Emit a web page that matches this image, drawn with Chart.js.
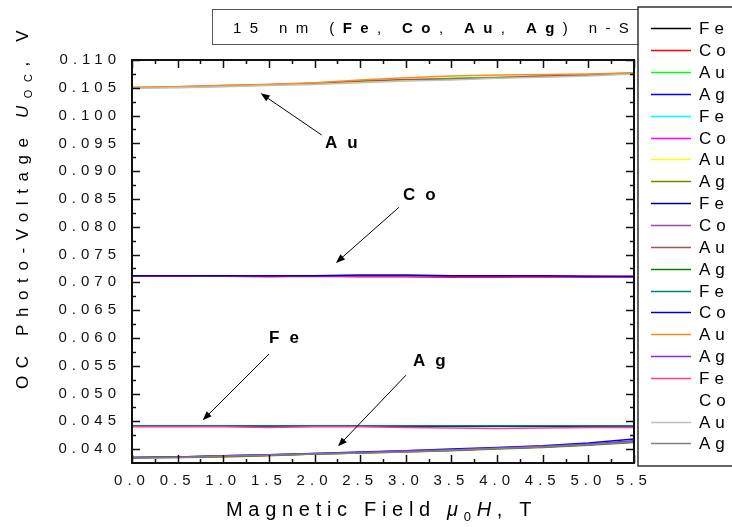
<!DOCTYPE html>
<html>
<head>
<meta charset="utf-8">
<script src="https://cdn.jsdelivr.net/npm/chart.js@4.4.1/dist/chart.umd.min.js"></script>
<style>
  html, body { margin: 0; padding: 0; background: #fff; }
  canvas { display: block; }
</style>
</head>
<body>
<canvas id="chart" width="732" height="527"></canvas>
<script>
"use strict";

const FONT = "'Liberation Sans', Arial, sans-serif";

// Magnetic field points, T
const FIELD = [0, 0.5, 1.0, 1.5, 2.0, 2.5, 3.0, 3.5, 4.0, 4.5, 5.0, 5.5];
const X_TICKS = [0, 0.5, 1.0, 1.5, 2.0, 2.5, 3.0, 3.5, 4.0, 4.5, 5.0, 5.5];
const Y_TICKS = [0.040, 0.045, 0.050, 0.055, 0.060, 0.065, 0.070, 0.075,
  0.080, 0.085, 0.090, 0.095, 0.100, 0.105, 0.110];

// Fe runs, V
const FE_1 = [0.0441, 0.0441, 0.0441, 0.0441, 0.0441, 0.0441, 0.0442, 0.0441, 0.0441, 0.0441, 0.0441, 0.0441];
const FE_2 = [0.0442, 0.0442, 0.0442, 0.0442, 0.0442, 0.0442, 0.0442, 0.0442, 0.0442, 0.0442, 0.0442, 0.0442];
const FE_3 = [0.0441, 0.0441, 0.0441, 0.0442, 0.0441, 0.0441, 0.0441, 0.0441, 0.0441, 0.0441, 0.0441, 0.0442];
const FE_4 = [0.0442, 0.0442, 0.0441, 0.0442, 0.0442, 0.0442, 0.0442, 0.0442, 0.0442, 0.0442, 0.0442, 0.0442];
const FE_5 = [0.0440, 0.0440, 0.0440, 0.0439, 0.0440, 0.0440, 0.0439, 0.0438, 0.0437, 0.0438, 0.0439, 0.0439];

// Co runs, V
const CO_1 = [0.0711, 0.0711, 0.0711, 0.0710, 0.0711, 0.0710, 0.0710, 0.0709, 0.0709, 0.0710, 0.0709, 0.0709];
const CO_2 = [0.0711, 0.0711, 0.0711, 0.0711, 0.0711, 0.0711, 0.0711, 0.0710, 0.0710, 0.0710, 0.0710, 0.0710];
const CO_3 = [0.0712, 0.0712, 0.0711, 0.0712, 0.0712, 0.0712, 0.0712, 0.0711, 0.0711, 0.0711, 0.0711, 0.0710];
const CO_4 = [0.0712, 0.0712, 0.0712, 0.0712, 0.0712, 0.0713, 0.0713, 0.0712, 0.0712, 0.0712, 0.0711, 0.0711];
const CO_5 = [0.0711, 0.0711, 0.0711, 0.0711, 0.0711, 0.0711, 0.0711, 0.0711, 0.0711, 0.0711, 0.0711, 0.0711];

// Au runs, V
const AU_1 = [0.1050, 0.1051, 0.1053, 0.1055, 0.1058, 0.1061, 0.1064, 0.1067, 0.1069, 0.1071, 0.1073, 0.1077];
const AU_2 = [0.1050, 0.1051, 0.1053, 0.1055, 0.1057, 0.1060, 0.1063, 0.1065, 0.1068, 0.1070, 0.1072, 0.1076];
const AU_3 = [0.1050, 0.1052, 0.1054, 0.1056, 0.1058, 0.1062, 0.1065, 0.1066, 0.1068, 0.1071, 0.1073, 0.1076];
const AU_4 = [0.1051, 0.1052, 0.1054, 0.1056, 0.1059, 0.1064, 0.1068, 0.1071, 0.1073, 0.1074, 0.1075, 0.1077];
const AU_5 = [0.1049, 0.1050, 0.1052, 0.1054, 0.1056, 0.1059, 0.1062, 0.1064, 0.1067, 0.1069, 0.1071, 0.1075];

// Ag runs, V
const AG_1 = [0.0385, 0.0386, 0.0388, 0.0390, 0.0392, 0.0395, 0.0397, 0.0400, 0.0403, 0.0406, 0.0411, 0.0418];
const AG_2 = [0.0384, 0.0385, 0.0386, 0.0388, 0.0391, 0.0393, 0.0395, 0.0397, 0.0400, 0.0403, 0.0407, 0.0412];
const AG_3 = [0.0385, 0.0386, 0.0387, 0.0389, 0.0391, 0.0393, 0.0396, 0.0398, 0.0401, 0.0404, 0.0408, 0.0413];
const AG_4 = [0.0385, 0.0386, 0.0388, 0.0390, 0.0392, 0.0394, 0.0397, 0.0399, 0.0402, 0.0405, 0.0409, 0.0415];
const AG_5 = [0.0384, 0.0385, 0.0387, 0.0389, 0.0391, 0.0393, 0.0395, 0.0398, 0.0401, 0.0404, 0.0408, 0.0413];

// Legend order follows the Origin colour cycle
const SERIES = [
  ["Fe", "#000000", FE_1], ["Co", "#ff0000", CO_1], ["Au", "#00ff00", AU_1], ["Ag", "#0000ff", AG_1],
  ["Fe", "#00ffff", FE_2], ["Co", "#ff00ff", CO_2], ["Au", "#ffff00", AU_2], ["Ag", "#808000", AG_2],
  ["Fe", "#000080", FE_3], ["Co", "#9a4a9a", CO_3], ["Au", "#a05555", AU_3], ["Ag", "#008000", AG_3],
  ["Fe", "#008080", FE_4], ["Co", "#0000c0", CO_4], ["Au", "#ff8c1a", AU_4], ["Ag", "#8a2be2", AG_4],
  ["Fe", "#ff3c8c", FE_5], ["Co", "#ffffff", CO_5], ["Au", "#c0c0c0", AU_5], ["Ag", "#808080", AG_5],
];

// Arrow annotations in data units: label [H, U], tail, tip
const NOTES = [
  { text: "Au", at: [2.115, 0.0941], from: [2.078, 0.0965], to: [1.41, 0.1040] },
  { text: "Co", at: [2.969, 0.0848], from: [2.925, 0.0835], to: [2.235, 0.0735] },
  { text: "Fe", at: [1.501, 0.0591], from: [1.501, 0.0571], to: [0.775, 0.0452] },
  { text: "Ag", at: [3.079, 0.0549], from: [3.002, 0.0533], to: [2.257, 0.0405] },
];

function spaced(ctx, parts, x, y, spacing) {
  ctx.letterSpacing = spacing + "px";
  let cx = x;
  parts.forEach((p) => {
    ctx.font = p.font;
    ctx.fillText(p.text, cx, y + (p.dy || 0));
    cx += ctx.measureText(p.text).width;
  });
}

function arrow(ctx, x1, y1, x2, y2) {
  const ang = Math.atan2(y2 - y1, x2 - x1);
  const len = 9, wid = 3.5;
  ctx.beginPath();
  ctx.moveTo(x1, y1);
  ctx.lineTo(x2 - Math.cos(ang) * len * 0.8, y2 - Math.sin(ang) * len * 0.8);
  ctx.stroke();
  ctx.beginPath();
  ctx.moveTo(x2, y2);
  ctx.lineTo(x2 - Math.cos(ang) * len - Math.sin(ang) * wid, y2 - Math.sin(ang) * len + Math.cos(ang) * wid);
  ctx.lineTo(x2 - Math.cos(ang) * len + Math.sin(ang) * wid, y2 - Math.sin(ang) * len - Math.cos(ang) * wid);
  ctx.closePath();
  ctx.fill();
}

// Midpoints between neighbouring major ticks
const minors = (t) => t.slice(1).map((v, i) => (v + t[i]) / 2);

const decor = {
  id: "decor",
  beforeUpdate(chart) { chart.ctx.letterSpacing = "5px"; },
  beforeDraw(chart) { chart.ctx.letterSpacing = "5px"; },
  afterDatasetsDraw(chart) {
    const ctx = chart.ctx, a = chart.chartArea;
    const xs = chart.scales.x, ys = chart.scales.y;
    ctx.save();
    ctx.strokeStyle = "#111";
    ctx.lineWidth = 1.5;
    ctx.beginPath();
    const xt = (v, len) => {
      const px = Math.round(xs.getPixelForValue(v)) + 0.5;
      ctx.moveTo(px, a.bottom); ctx.lineTo(px, a.bottom - len);
      ctx.moveTo(px, a.top); ctx.lineTo(px, a.top + len);
    };
    const yt = (v, len) => {
      const py = Math.round(ys.getPixelForValue(v)) + 0.5;
      ctx.moveTo(a.left, py); ctx.lineTo(a.left + len, py);
      ctx.moveTo(a.right, py); ctx.lineTo(a.right - len, py);
    };
    X_TICKS.forEach((v) => xt(v, 8));
    minors(X_TICKS).forEach((v) => xt(v, 4));
    Y_TICKS.forEach((v) => yt(v, 8));
    minors(Y_TICKS).forEach((v) => yt(v, 4));
    ctx.stroke();
    ctx.lineWidth = 2;
    ctx.strokeRect(a.left, a.top, a.right - a.left, a.bottom - a.top);
    ctx.restore();
  },
  afterDraw(chart) {
    const ctx = chart.ctx;
    const xs = chart.scales.x, ys = chart.scales.y;
    const px = (p) => [xs.getPixelForValue(p[0]), ys.getPixelForValue(p[1])];
    ctx.save();
    ctx.fillStyle = "#000";
    ctx.strokeStyle = "#000";
    ctx.textBaseline = "alphabetic";
    ctx.textAlign = "left";

    // arrows and material labels
    ctx.lineWidth = 1;
    NOTES.forEach((n) => {
      const [x1, y1] = px(n.from), [x2, y2] = px(n.to), [lx, ly] = px(n.at);
      arrow(ctx, x1, y1, x2, y2);
      spaced(ctx, [{ text: n.text, font: "bold 17px " + FONT }], lx, ly, 10);
    });

    // x axis title
    const reg = "20px " + FONT, ita = "italic 20px " + FONT, sub = "13px " + FONT;
    spaced(ctx, [
      { text: "Magnetic Field ", font: reg },
      { text: "μ", font: ita },
      { text: "0", font: sub, dy: 5 },
      { text: "H", font: ita },
      { text: ", T", font: reg },
    ], 226, 516, 5.7);

    // y axis title, rotated
    ctx.save();
    ctx.translate(28, 389);
    ctx.rotate(-Math.PI / 2);
    const yr = "17px " + FONT;
    spaced(ctx, [
      { text: "OC Photo-Voltage ", font: yr },
      { text: "U", font: "italic 17px " + FONT },
      { text: "OC", font: "11px " + FONT, dy: 4 },
      { text: ", V", font: yr },
    ], 0, 0, 7.6);
    ctx.restore();

    // sample caption box
    ctx.fillStyle = "#fff";
    ctx.fillRect(212.5, 9.5, 480, 35);
    ctx.strokeStyle = "#555";
    ctx.lineWidth = 1;
    ctx.strokeRect(212.5, 9.5, 480, 35);
    ctx.fillStyle = "#000";
    const tr = "15px " + FONT, tb = "bold 15px " + FONT;
    spaced(ctx, [
      { text: "15 nm (", font: tr }, { text: "Fe", font: tb }, { text: ", ", font: tr },
      { text: "Co", font: tb }, { text: ", ", font: tr }, { text: "Au", font: tb },
      { text: ", ", font: tr }, { text: "Ag", font: tb }, { text: ") n-Si", font: tr },
    ], 233, 32.5, 8.4);

    // legend
    ctx.fillStyle = "#fff";
    ctx.fillRect(638, 7, 120, 459);
    ctx.strokeStyle = "#333";
    ctx.lineWidth = 1.5;
    ctx.strokeRect(638, 7, 120, 459);
    SERIES.forEach((s, i) => {
      const y = 28.3 + i * 21.85;
      ctx.strokeStyle = s[1];
      ctx.lineWidth = 1.6;
      ctx.beginPath();
      ctx.moveTo(651, Math.round(y) + 0.5);
      ctx.lineTo(691, Math.round(y) + 0.5);
      ctx.stroke();
      ctx.fillStyle = "#000";
      spaced(ctx, [{ text: s[0], font: "17px " + FONT }], 699, y + 6, 5);
    });
    ctx.restore();
  },
};

new Chart(document.getElementById("chart"), {
  type: "line",
  data: {
    labels: FIELD,
    datasets: SERIES.map((s, i) => ({
      label: s[0],
      data: s[2].map((v, k) => ({ x: FIELD[k], y: v })),
      borderColor: s[1],
      borderWidth: 1.5,
      pointRadius: 0,
      tension: 0,
      fill: false,
      // later runs are painted over earlier ones; the white run stays underneath
      order: s[1] === "#ffffff" ? 100 : SERIES.length - i,
    })),
  },
  options: {
    responsive: false,
    animation: false,
    devicePixelRatio: 1,
    layout: { padding: { top: 60, right: 98, left: 0, bottom: 0 } },
    plugins: { legend: { display: false }, tooltip: { enabled: false } },
    scales: {
      x: {
        type: "linear",
        min: 0, max: 5.5,
        afterBuildTicks: (s) => { s.ticks = X_TICKS.map((v) => ({ value: v })); },
        afterFit: (s) => { s.height = 64; },
        grid: { display: false, drawTicks: false },
        border: { display: false },
        ticks: {
          padding: 9,
          color: "#111",
          font: { family: FONT, size: 15 },
          maxRotation: 0,
          autoSkip: false,
          callback: (v) => Number(v).toFixed(1),
        },
      },
      y: {
        type: "linear",
        min: 0.0375, max: 0.110,
        afterBuildTicks: (s) => { s.ticks = Y_TICKS.map((v) => ({ value: v })); },
        afterFit: (s) => { s.width = 132; },
        grid: { display: false, drawTicks: false },
        border: { display: false },
        ticks: {
          padding: 11,
          color: "#111",
          font: { family: FONT, size: 15 },
          autoSkip: false,
          callback: (v) => Number(v).toFixed(3),
        },
      },
    },
  },
  plugins: [decor],
});
</script>
</body>
</html>
